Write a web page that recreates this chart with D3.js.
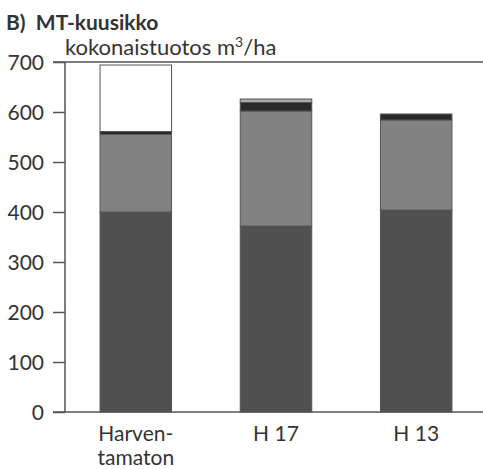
<!DOCTYPE html>
<html><head><meta charset="utf-8">
<script src="https://cdn.jsdelivr.net/npm/d3@7"></script>
<style>body{margin:0;background:#fff}svg{display:block}</style>
</head><body>
<script>
const categories = ["Harven-|tamaton", "H 17", "H 13"];
const baseDark = [400, 372, 404];
const midGray = [155, 230, 180];
const darkBand = [6, 17, 12];
const lightBand = [0, 7, 0];
const whiteTop = [133, 0, 0];
const yTicks = [0, 100, 200, 300, 400, 500, 600, 700];
const seriesKeys = ["baseDark", "midGray", "darkBand", "lightBand", "whiteTop"];
const seriesColors = ["#505050", "#828282", "#2a2a2a", "#a9a9a9", "#ffffff"];

const W = 483, H = 469;
const svg = d3.select("body").append("svg").attr("width", W).attr("height", H);
const font = "Lato, 'Noto Sans', sans-serif";

const rows = categories.map((c, i) => ({cat: c, baseDark: baseDark[i], midGray: midGray[i], darkBand: darkBand[i], lightBand: lightBand[i], whiteTop: whiteTop[i]}));
const stacked = d3.stack().keys(seriesKeys)(rows);

const y = d3.scaleLinear().domain([0, 700]).range([412, 62]);
const x = d3.scaleBand().domain(categories).range([65, 487]).paddingInner(0.49).paddingOuter(0.25);

const color = d3.scaleOrdinal().domain(seriesKeys).range(seriesColors);
svg.append("g").selectAll("g").data(stacked).join("g")
  .attr("fill", d => color(d.key))
  .selectAll("rect").data(d => d.filter(s => s[1] - s[0] > 0)).join("rect")
  .attr("x", d => x(d.data.cat))
  .attr("width", x.bandwidth())
  .attr("y", d => y(d[1]))
  .attr("height", d => y(d[0]) - y(d[1]))
  .attr("stroke", "#555").attr("stroke-width", 1);

const yAxis = svg.append("g").attr("transform", "translate(65,0)")
  .call(d3.axisLeft(y).tickValues(yTicks).tickSize(12).tickPadding(9).tickFormat(d3.format("d")));
yAxis.select(".domain").attr("stroke", "#555").attr("stroke-width", 1.5).attr("d", "M0,412V62");
yAxis.selectAll(".tick line").attr("stroke", "#555").attr("stroke-width", 1.5);
yAxis.selectAll(".tick text").attr("font-family", font).attr("font-size", 21).attr("fill", "#333").attr("dy", "0.35em");

svg.append("g").selectAll("line").data([0, 700]).join("line")
  .attr("x1", 53).attr("x2", W).attr("y1", d => y(d)).attr("y2", d => y(d))
  .attr("stroke", "#555").attr("stroke-width", 1.5);

const labelLines = [];
categories.forEach(c => c.split("|").forEach((p, i) => labelLines.push({cat: c, text: p, line: i})));
svg.append("g").selectAll("text").data(labelLines).join("text")
  .attr("x", d => x(d.cat) + x.bandwidth() / 2)
  .attr("y", d => 441 + d.line * 24)
  .attr("text-anchor", "middle")
  .attr("font-family", font).attr("font-size", 21).attr("fill", "#333")
  .text(d => d.text);

svg.append("text").attr("x", 6).attr("y", 30)
  .attr("font-family", font).attr("font-size", 21).attr("font-weight", "bold").attr("fill", "#333")
  .style("white-space", "pre")
  .text("B)  MT-kuusikko");
const sub = svg.append("text").attr("x", 65).attr("y", 55)
  .attr("font-family", font).attr("font-size", 22).attr("fill", "#333");
sub.append("tspan").text("kokonaistuotos m");
sub.append("tspan").attr("font-size", 14).attr("dy", -8).text("3");
sub.append("tspan").attr("dy", 8).text("/ha");
</script>
</body></html>
